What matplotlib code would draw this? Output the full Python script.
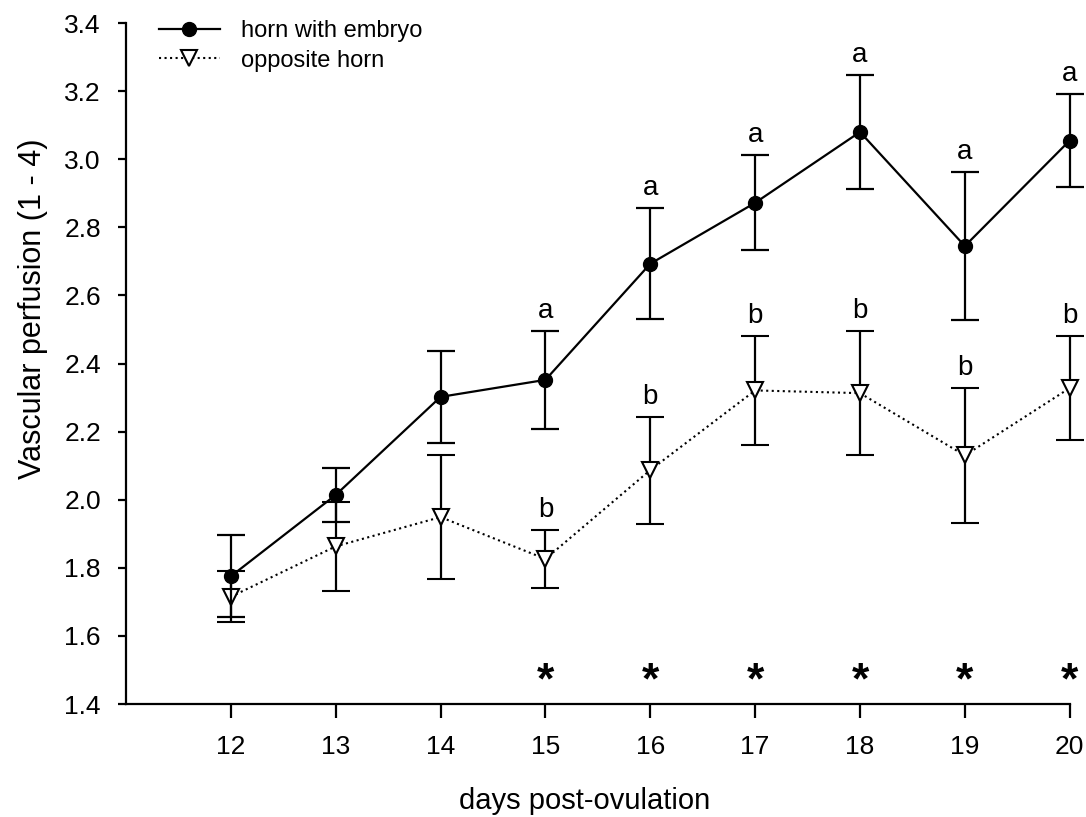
import matplotlib
matplotlib.use("Agg")
import matplotlib.pyplot as plt
from matplotlib.lines import Line2D

plt.rcParams['font.family'] = ['Liberation Sans', 'DejaVu Sans']

# data
days = [12, 13, 14, 15, 16, 17, 18, 19, 20]
embryo_mean = [1.775, 2.014, 2.302, 2.352, 2.693, 2.872, 3.08, 2.745, 3.055]
embryo_err = [0.12, 0.08, 0.136, 0.143, 0.163, 0.14, 0.168, 0.217, 0.138]
opp_mean = [1.715, 1.863, 1.949, 1.826, 2.087, 2.321, 2.313, 2.13, 2.328]
opp_err = [0.075, 0.13, 0.183, 0.085, 0.157, 0.16, 0.183, 0.198, 0.154]

embryo_letters = ['', '', '', 'a', 'a', 'a', 'a', 'a', 'a']
opp_letters = ['', '', '', 'b', 'b', 'b', 'b', 'b', 'b']
star_days = [15, 16, 17, 18, 19, 20]
star_level = 1.465

fig = plt.figure(figsize=(10.86, 8.17), dpi=100)
ax = fig.add_axes([0.116, 0.1383, 0.869, 0.8335])

eb1 = ax.errorbar(days, opp_mean, yerr=opp_err, fmt='v', linestyle=':', color='black',
                  mfc='white', mec='black', ms=11, mew=1.5, lw=1.5, elinewidth=1.6,
                  capsize=10, capthick=1.6, zorder=2)
eb2 = ax.errorbar(days, embryo_mean, yerr=embryo_err, fmt='o', linestyle='-', color='black',
                  ms=10, lw=1.6, elinewidth=1.6, capsize=10, capthick=1.6, zorder=3)
# let the day-20 marks hang over the right edge like the original
for eb in (eb1, eb2):
    for art in eb.get_children():
        art.set_clip_on(False)

# significance letters above the error bars
for d, m, e, t in zip(days, embryo_mean, embryo_err, embryo_letters):
    if t:
        ax.text(d, m + e + 0.02, t, ha='center', va='bottom', fontsize=20)
for d, m, e, t in zip(days, opp_mean, opp_err, opp_letters):
    if t:
        ax.text(d, m + e + 0.02, t, ha='center', va='bottom', fontsize=20)
for d in star_days:
    ax.text(d, star_level, '*', ha='center', va='center', fontsize=32, fontweight='bold')

ax.set_xlim(11, 20)
ax.set_ylim(1.4, 3.4)
ax.set_xticks(days)
ax.set_yticks([1.4, 1.6, 1.8, 2.0, 2.2, 2.4, 2.6, 2.8, 3.0, 3.2, 3.4])
ax.set_yticklabels(['%.1f' % v for v in ax.get_yticks()])
ax.spines['top'].set_visible(False)
ax.spines['right'].set_visible(False)
ax.spines['left'].set_linewidth(1.6)
ax.spines['bottom'].set_linewidth(1.6)
ax.tick_params(axis='x', direction='out', length=10, width=1.6, labelsize=19, pad=12)
ax.tick_params(axis='y', direction='out', length=6, width=1.6, labelsize=19, pad=12)

ax.set_xlabel('days post-ovulation', fontsize=21)
ax.xaxis.set_label_coords(0.486, -0.122)
ax.set_ylabel('Vascular perfusion (1 - 4)', fontsize=22)
ax.yaxis.set_label_coords(-0.083, 0.58)

handles = [
    Line2D([], [], color='black', lw=1.6, marker='o', ms=10),
    Line2D([], [], color='black', lw=1.5, linestyle=':', marker='v', ms=11,
           mfc='white', mec='black', mew=1.5),
]
ax.legend(handles, ['horn with embryo', 'opposite horn'], loc='upper left',
          bbox_to_anchor=(0.012, 1.035), frameon=False, fontsize=17,
          handlelength=2.6, handletextpad=0.9, labelspacing=0.3)

fig.savefig('out.png', dpi=100)
